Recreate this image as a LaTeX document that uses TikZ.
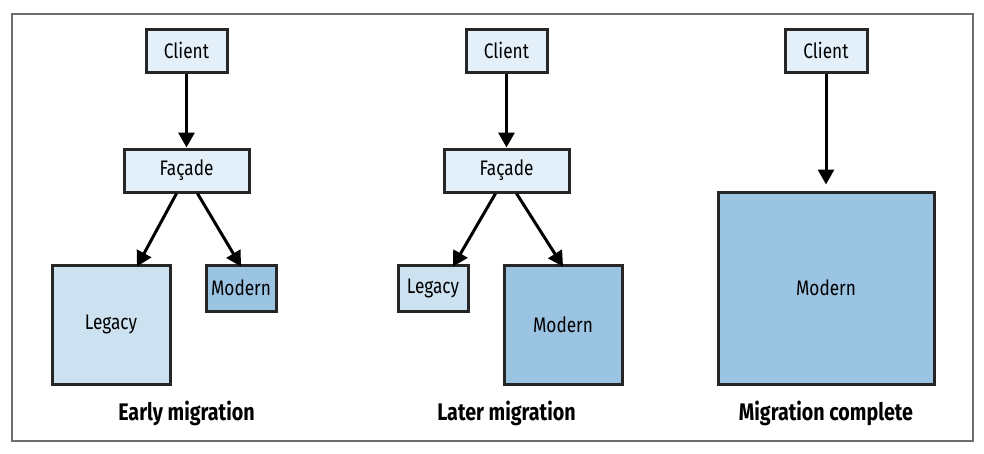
\documentclass[tikz,border=0pt]{standalone}
\usepackage{fontspec}
\setmainfont[FakeStretch=0.82]{Fira Sans}
\usepackage{tikz}
\usetikzlibrary{arrows.meta}

\definecolor{clientfill}{RGB}{227,240,249}
\definecolor{legacyfill}{RGB}{205,226,241}
\definecolor{modernfill}{RGB}{155,196,227}
\definecolor{framegray}{RGB}{110,110,110}

\tikzset{
  box/.style={draw=black!85, line width=3pt, inner sep=0pt, font=\fontsize{21}{24}\selectfont},
  lightbox/.style={box, fill=clientfill, minimum height=43pt},
  arr/.style={line width=3pt, -{Triangle[length=15pt,width=16pt]}},
  caption/.style={font=\fontsize{24}{28}\selectfont\bfseries}
}

\begin{document}
\begin{tikzpicture}[x=1pt, y=-1pt]

\useasboundingbox (0,0) rectangle (984,453);
\draw [framegray, line width=1.5pt] (12,14) rectangle (973,441);

% early migration
\node [lightbox, minimum width=81pt]  (client1) at (186.5,50.5)  {Client};
\node [lightbox, minimum width=125pt] (facade1) at (186.5,170.5) {Façade};
\node [box, fill=legacyfill, minimum width=118pt, minimum height=119pt] (legacy1) at (111,324.5) {Legacy};
\node [box, fill=modernfill, minimum width=70pt, minimum height=46pt]   (modern1) at (241,288)   {Modern};
\node [caption] (early) at (186.5,413) {Early migration};

\draw [arr] (client1) -- (facade1);
\draw [arr] ([xshift=-10pt]facade1.south) -- ([xshift=26pt,yshift=-3pt]legacy1.north);
\draw [arr] ([xshift=11pt]facade1.south) -- ([yshift=-3pt]modern1.north);

% later migration
\node [lightbox, minimum width=81pt]  (client2) at (506.5,50.5)  {Client};
\node [lightbox, minimum width=125pt] (facade2) at (506.5,170.5) {Façade};
\node [box, fill=legacyfill, minimum width=70pt, minimum height=46pt]   (legacy2) at (433,288)   {Legacy};
\node [box, fill=modernfill, minimum width=118pt, minimum height=119pt] (modern2) at (563,324.5) {Modern};
\node [caption] (later) at (506.5,413) {Later migration};

\draw [arr] (client2) -- (facade2);
\draw [arr] ([xshift=-11pt]facade2.south) -- ([xshift=20pt,yshift=-3pt]legacy2.north);
\draw [arr] ([xshift=10pt]facade2.south) -- ([yshift=-3pt]modern2.north);

% migration complete
\node [lightbox, minimum width=82pt] (client3) at (826,50.5) {Client};
\node [box, fill=modernfill, minimum width=216pt, minimum height=192pt] (modern3) at (826,288) {Modern};
\node [caption] (complete) at (826,413) {Migration complete};

\draw [arr, shorten >=6pt] (client3) -- (modern3);

\end{tikzpicture}
\end{document}
